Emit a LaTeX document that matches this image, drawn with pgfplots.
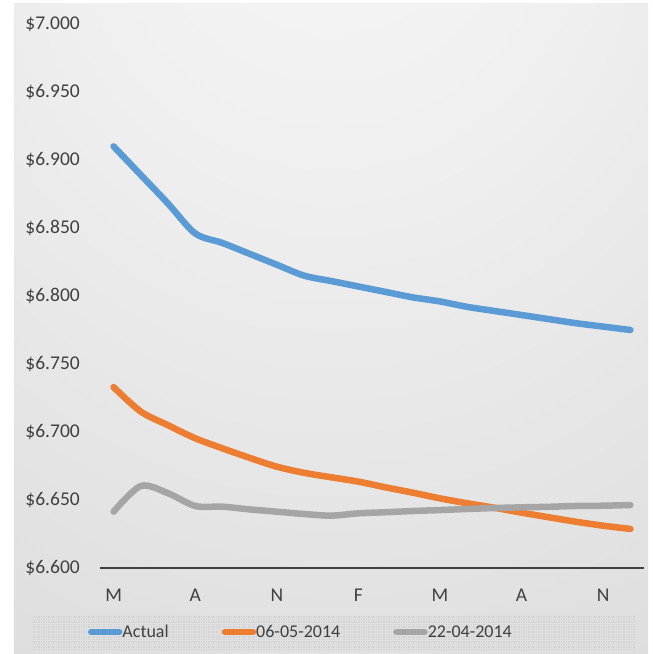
\documentclass[border=0pt]{standalone}
\usepackage{pgfplots}
\pgfplotsset{compat=1.18}
\usepackage{fontspec}
\setmainfont{Carlito}

\definecolor{cBlue}{HTML}{5B9BD5}
\definecolor{cOrange}{HTML}{ED7D31}
\definecolor{cGray}{HTML}{A5A5A5}
\definecolor{txt}{HTML}{404040}
\definecolor{legbg}{HTML}{D3D3D3}
\definecolor{legmesh}{HTML}{E0E0E0}

% light spot near the top, darker towards the corners
\pgfdeclareradialshading{bgshade}{\pgfpoint{0bp}{40bp}}{%
  color(0bp)=(white!97!black); color(20bp)=(white!94!black);
  color(60bp)=(white!85.5!black); color(110bp)=(white!76!black)}

\begin{document}
\begin{tikzpicture}
\useasboundingbox (-100bp,-86bp) rectangle (553bp,568bp);
\fill[white] (-100bp,-86bp) rectangle (553bp,568bp);
\shade[shading=bgshade] (-86bp,-86bp) rectangle (548bp,564bp);
% legend box with fine mesh
\fill[legbg] (-67bp,-82bp) rectangle (536bp,-47bp);
\begin{scope}
\clip (-67bp,-82bp) rectangle (536bp,-47bp);
\draw[step=2.5bp, legmesh, line width=0.4bp] (-67bp,-82bp) grid (536bp,-47bp);
\end{scope}

\begin{axis}[
  scale only axis,
  width=544bp, height=544bp,
  xmin=-0.5, xmax=19.5,
  ymin=6.6, ymax=7.0,
  axis x line*=bottom, axis y line*=left,
  x axis line style={-, draw=txt, line width=2.7bp},
  y axis line style={draw=none},
  major tick length=0pt,
  xtick={0,3,6,9,12,15,18},
  xticklabels={M,A,N,F,M,A,N},
  ytick={6.6,6.65,6.7,6.75,6.8,6.85,6.9,6.95,7.0},
  yticklabels={\$6.600,\$6.650,\$6.700,\$6.750,\$6.800,\$6.850,\$6.900,\$6.950,\$7.000},
  ticklabel style={font=\fontsize{19.5bp}{23bp}\selectfont, text=txt},
  xticklabel style={anchor=base, inner sep=0pt, yshift=-33.7bp},
  yticklabel style={anchor=east, inner sep=0pt, xshift=-20bp},
  legend columns=3,
  legend cell align=left,
  legend style={at={(-0.0221,-0.1176)}, anchor=west, draw=none, fill=none,
    inner sep=0pt, outer sep=0pt,
    cells={anchor=west},
    nodes={inner sep=0pt, text=txt, font=\fontsize{18bp}{21bp}\selectfont},
    /tikz/every even column/.append style={column sep=53bp}},
  legend image code/.code={%
    \path (0bp,0bp) -- (28bp,0bp);
    \draw[line width=6.5bp, line cap=round] (3.25bp,0bp) -- (25.75bp,0bp);},
  every axis plot/.append style={line width=6.5bp, line cap=round, line join=round, smooth},
]
\addplot[cBlue] coordinates {
  (0,6.910) (1,6.889) (2,6.868) (3,6.846) (4,6.839) (5,6.831) (6,6.823)
  (7,6.815) (8,6.811) (9,6.807) (10,6.803) (11,6.799) (12,6.796) (13,6.792)
  (14,6.789) (15,6.786) (16,6.783) (17,6.780) (18,6.7775) (19,6.775)
};
\addlegendentry{Actual}
\addplot[cOrange] coordinates {
  (0,6.733) (1,6.715) (2,6.705) (3,6.6954) (4,6.688) (5,6.681) (6,6.6745)
  (7,6.670) (8,6.6667) (9,6.6635) (10,6.6593) (11,6.6554) (12,6.6512) (13,6.6476)
  (14,6.6443) (15,6.6407) (16,6.6373) (17,6.634) (18,6.6311) (19,6.6287)
};
\addlegendentry{06-05-2014}
\addplot[cGray] coordinates {
  (0,6.6414) (1,6.6603) (2,6.655) (3,6.6456) (4,6.6451) (5,6.6431) (6,6.6414)
  (7,6.6397) (8,6.6385) (9,6.6402) (10,6.641) (11,6.6419) (12,6.6426) (13,6.6434)
  (14,6.6441) (15,6.6446) (16,6.645) (17,6.6456) (18,6.6458) (19,6.6463)
};
\addlegendentry{22-04-2014}
\end{axis}
\end{tikzpicture}
\end{document}
